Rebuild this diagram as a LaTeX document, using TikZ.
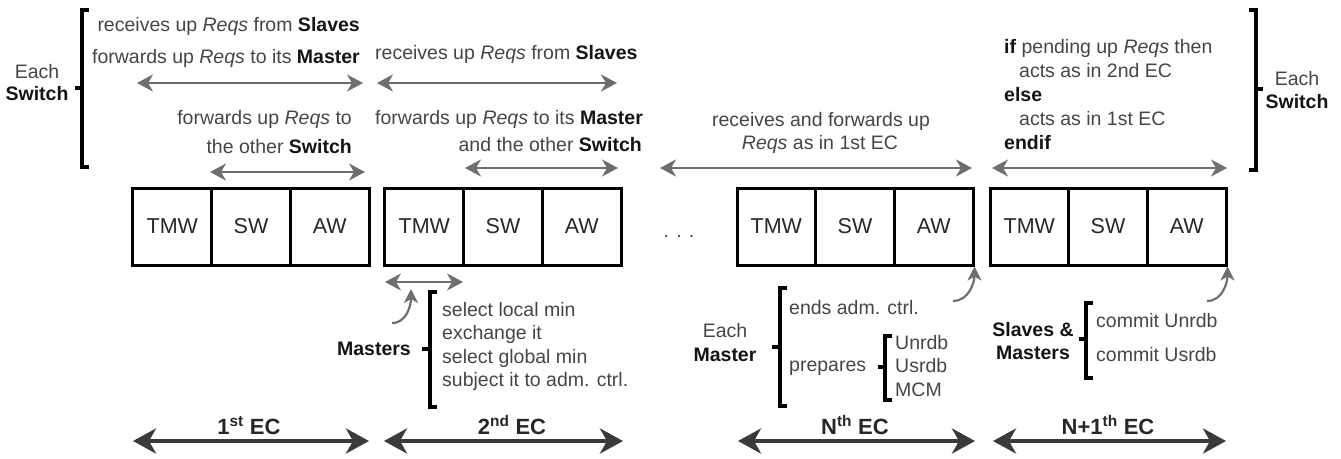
\documentclass[tikz,border=0pt]{standalone}
\usepackage{fontspec}
\setmainfont{Liberation Sans}
\usetikzlibrary{arrows.meta}

\definecolor{txtgray}{HTML}{454545}
\definecolor{arrgray}{HTML}{6E6E6E}
\definecolor{ecdark}{HTML}{3A3A3A}

\newcommand\kw[1]{\textcolor{black!92}{\textbf{#1}}}

\tikzset{
  cell/.style={draw=black, line width=3pt, minimum width=78.67pt, minimum height=77pt,
    inner sep=0pt, font=\fontsize{21.5}{24}\selectfont, text=black!85},
  lbl/.style={inner sep=0pt, font=\fontsize{19.5}{24}\selectfont, text=txtgray},
  thinarr/.style={draw=arrgray, line width=2.2pt,
    {Stealth[length=16pt,width=17pt,inset=5pt]}-{Stealth[length=16pt,width=17pt,inset=5pt]}},
  ecarr/.style={draw=ecdark, line width=4.5pt,
    {Stealth[length=23pt,width=25pt,inset=7pt]}-{Stealth[length=23pt,width=25pt,inset=7pt]}},
  ptr/.style={draw=arrgray, line width=2.2pt, -{Stealth[length=14pt,width=14pt,inset=4pt]}},
  brk/.style={draw=black, line width=3.5pt},
  eclbl/.style={inner sep=0pt, font=\bfseries\fontsize{22}{24}\selectfont, text=black!85},
}

\begin{document}
\begin{tikzpicture}[x=1pt, y=-1pt]
\useasboundingbox (0,0) rectangle (1341,458);

% ---- the four elementary cycles: TMW | SW | AW ----
\node[cell] (t1) at (172.33,226.5) {TMW};
\node[cell] (s1) at (251,226.5) {SW};
\node[cell] (a1) at (329.67,226.5) {AW};

\node[cell] (t2) at (424.33,226.5) {TMW};
\node[cell] (s2) at (503,226.5) {SW};
\node[cell] (a2) at (581.67,226.5) {AW};

\node[lbl, anchor=base] (dots) at (679,237) {. . .};

\node[cell] (t3) at (776.33,226.5) {TMW};
\node[cell] (s3) at (855,226.5) {SW};
\node[cell] (a3) at (933.67,226.5) {AW};

\node[cell] (t4) at (1029.33,226.5) {TMW};
\node[cell] (s4) at (1108,226.5) {SW};
\node[cell] (a4) at (1186.67,226.5) {AW};

% ---- switch behaviour, left bracket ----
\draw[brk] (89,10) -- (82,10) -- (82,167) -- (89,167);
\draw[brk] (82,88) -- (75,88);
\node[lbl, anchor=base] (eachL) at (37,78) {Each};
\node[lbl, anchor=base] (switchL) at (37,100) {\kw{Switch}};

% first EC
\node[lbl, anchor=base east] (l1) at (360,31) {receives up \textit{Reqs} from \kw{Slaves}};
\node[lbl, anchor=base east] (l2) at (360,63) {forwards up \textit{Reqs} to its \kw{Master}};
\coordinate (l2a) at (137,83); \coordinate (l2b) at (363,83);
\draw[thinarr] (l2a) -- (l2b);
\node[lbl, anchor=base east] (l3) at (352,124) {forwards up \textit{Reqs} to};
\node[lbl, anchor=base east] (l4) at (352,153) {the other \kw{Switch}};
\coordinate (l4a) at (210,172); \coordinate (l4b) at (365,172);
\draw[thinarr] (l4a) -- (l4b);

% second EC
\node[lbl, anchor=base west] (m1) at (375,59) {receives up \textit{Reqs} from \kw{Slaves}};
\coordinate (m1a) at (377,83); \coordinate (m1b) at (617,83);
\draw[thinarr] (m1a) -- (m1b);
\node[lbl, anchor=base west] (m2) at (375,124) {forwards up \textit{Reqs} to its \kw{Master}};
\node[lbl, anchor=base east] (m3) at (642,151) {and the other \kw{Switch}};
\coordinate (m3a) at (465,168); \coordinate (m3b) at (618,168);
\draw[thinarr] (m3a) -- (m3b);

% Nth EC
\node[lbl, anchor=base] (n1) at (821,126) {receives and forwards up};
\node[lbl, anchor=base] (n2) at (820,149) {\textit{Reqs} as in 1st EC};
\coordinate (n2a) at (660,168); \coordinate (n2b) at (972,168);
\draw[thinarr] (n2a) -- (n2b);

% N+1th EC
\node[lbl, anchor=base west] (p1) at (1004,53) {\kw{if} pending up \textit{Reqs} then};
\node[lbl, anchor=base west] (p2) at (1019,77) {acts as in 2nd EC};
\node[lbl, anchor=base west] (p3) at (1004,101) {\kw{else}};
\node[lbl, anchor=base west] (p4) at (1019,125) {acts as in 1st EC};
\node[lbl, anchor=base west] (p5) at (1004,149) {\kw{endif}};
\coordinate (p5a) at (992,168); \coordinate (p5b) at (1227,168);
\draw[thinarr] (p5a) -- (p5b);

% switch behaviour, right bracket
\draw[brk] (1249,10) -- (1256,10) -- (1256,170) -- (1249,170);
\draw[brk] (1256,89) -- (1263,89);
\node[lbl, anchor=base] (eachR) at (1297,85) {Each};
\node[lbl, anchor=base] (switchR) at (1297,108) {\kw{Switch}};

% ---- masters in the 2nd EC ----
\coordinate (tmwa) at (385,282); \coordinate (tmwb) at (463,282);
\draw[thinarr] (tmwa) -- (tmwb);
\coordinate (cur2) at (392,323); \coordinate (tip2) at (411,289);
\draw[ptr] (cur2) to[out=0, in=-90] (tip2);
\draw[brk] (437,292) -- (430,292) -- (430,407) -- (437,407);
\draw[brk] (430,349) -- (422,349);
\node[lbl, anchor=base east] (mst) at (411,355) {\kw{Masters}};
\node[lbl, anchor=base west] (q1) at (442,316) {select local min};
\node[lbl, anchor=base west] (q2) at (442,339) {exchange it};
\node[lbl, anchor=base west] (q3) at (442,363) {select global min};
\node[lbl, anchor=base west] (q4) at (442,386) {subject it to adm. ctrl.};

% ---- each master in the Nth EC ----
\node[lbl, anchor=base] (eachM) at (725,337) {Each};
\node[lbl, anchor=base] (masterM) at (725,361) {\kw{Master}};
\draw[brk] (787,288) -- (780,288) -- (780,406) -- (787,406);
\draw[brk] (780,347) -- (772,347);
\node[lbl, anchor=base west] (r1) at (789,314) {ends adm. ctrl.};
\node[lbl, anchor=base west] (r2) at (789,371) {prepares};
\draw[brk] (892,336) -- (885,336) -- (885,400) -- (892,400);
\draw[brk] (885,367) -- (878,367);
\node[lbl, anchor=base west] (u1) at (895,349) {Unrdb};
\node[lbl, anchor=base west] (u2) at (895,372) {Usrdb};
\node[lbl, anchor=base west] (u3) at (895,396) {MCM};
\coordinate (cur3) at (953,301);
\draw[ptr] (cur3) to[out=0, in=-90] (a3.south east);

% ---- slaves and masters in the N+1th EC ----
\node[lbl, anchor=base] (slv) at (1033,336) {\kw{Slaves \&}};
\node[lbl, anchor=base] (mst4) at (1033,359) {\kw{Masters}};
\draw[brk] (1093,303) -- (1086,303) -- (1086,378) -- (1093,378);
\draw[brk] (1086,339) -- (1079,339);
\node[lbl, anchor=base west] (c1) at (1096,327) {commit Unrdb};
\node[lbl, anchor=base west] (c2) at (1096,361) {commit Usrdb};
\coordinate (cur4) at (1207,301);
\draw[ptr] (cur4) to[out=0, in=-90] (a4.south east);

% ---- cycle spans ----
\coordinate (e1a) at (133,441); \coordinate (e1b) at (369,441);
\coordinate (e2a) at (384,441); \coordinate (e2b) at (623,441);
\coordinate (e3a) at (738,441); \coordinate (e3b) at (975,441);
\coordinate (e4a) at (993,441); \coordinate (e4b) at (1226,441);
\draw[ecarr] (e1a) -- (e1b);
\draw[ecarr] (e2a) -- (e2b);
\draw[ecarr] (e3a) -- (e3b);
\draw[ecarr] (e4a) -- (e4b);
\node[eclbl, anchor=base] (ec1) at (249,434) {1\textsuperscript{st} EC};
\node[eclbl, anchor=base] (ec2) at (512,434) {2\textsuperscript{nd} EC};
\node[eclbl, anchor=base] (ec3) at (855,434) {N\textsuperscript{th} EC};
\node[eclbl, anchor=base] (ec4) at (1108,434) {N+1\textsuperscript{th} EC};
\end{tikzpicture}
\end{document}
